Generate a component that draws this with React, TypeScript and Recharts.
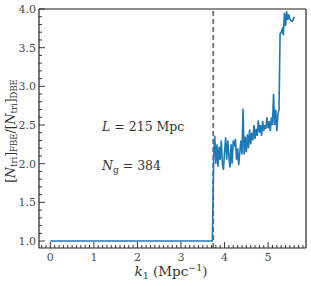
import React from "react";
import {
  LineChart,
  Line,
  XAxis,
  YAxis,
  ReferenceLine,
  Customized,
} from "recharts";

// k1 (Mpc^-1) and ratio [N_tri]_FBE / [N_tri]_DBE
const kValues = [
  0, 0.5, 1, 1.5, 2, 2.5, 3, 3.5, 3.72,
  3.75, 3.775, 3.8, 3.825, 3.85, 3.875, 3.9, 3.925, 3.95, 3.975,
  4.0, 4.025, 4.05, 4.075, 4.1, 4.125, 4.15, 4.175, 4.2, 4.225,
  4.25, 4.275, 4.3, 4.325, 4.35, 4.375, 4.4, 4.425, 4.45, 4.475,
  4.5, 4.525, 4.55, 4.575, 4.6, 4.625, 4.65, 4.675, 4.7, 4.725,
  4.75, 4.775, 4.8, 4.825, 4.85, 4.875, 4.9, 4.925, 4.95, 4.975,
  5.0, 5.025, 5.05, 5.075, 5.1, 5.125, 5.15, 5.175, 5.2, 5.225,
  5.25, 5.275, 5.3, 5.325, 5.35, 5.375, 5.4, 5.425, 5.45, 5.475,
  5.5, 5.525, 5.55, 5.575, 5.6,
];
const ratioValues = [
  1, 1, 1, 1, 1, 1, 1, 1, 1,
  2.08, 2.36, 2.0, 2.25, 1.96, 2.22, 2.05, 2.3, 2.0, 1.92,
  2.15, 2.34, 2.05, 2.3, 2.1, 1.95, 2.25, 2.0, 2.3, 2.22,
  2.32, 2.05, 2.2, 1.98, 2.15, 2.3, 2.12, 2.71, 2.12, 2.35,
  2.15, 2.38, 2.2, 2.44, 2.25, 2.4, 2.3, 2.5, 2.32, 2.45,
  2.36, 2.56, 2.4, 2.5, 2.36, 2.55, 2.42, 2.5, 2.45, 2.6,
  2.46, 2.55, 2.42, 2.6, 2.5, 2.9, 2.5, 2.7, 2.42, 2.64,
  2.7, 3.68, 3.7, 3.74, 3.66, 3.95, 3.78, 3.97, 3.86, 3.93,
  3.87, 3.85, 3.84, 3.86, 3.9,
];

const xMajorTicks = [0, 1, 2, 3, 4, 5];
const yMajorTicks = [1.0, 1.5, 2.0, 2.5, 3.0, 3.5, 4.0];
const kSplit = 3.74;
const boxLength = 215;
const gridCells = 384;

const data = kValues.map((k, i) => ({ k, ratio: ratioValues[i] }));

// minor ticks every 0.1 on both axes
const xTicks: number[] = [];
for (let i = -2; i <= 58; i++) xTicks.push(i / 10);
const yTicks: number[] = [];
for (let i = 10; i <= 40; i++) yTicks.push(i / 10);

const FONT = "'DejaVu Serif', 'Liberation Serif', serif";
const AXIS = "#222";
const TXT = "#4a4a4a";

const isMajor = (v: number, majors: number[]) =>
  majors.some((m) => Math.abs(m - v) < 1e-6);

function XTick(props: any) {
  const { x, y, payload } = props;
  const major = isMajor(payload.value, xMajorTicks);
  return (
    <g>
      <line x1={x} x2={x} y1={y} y2={y - (major ? 6 : 3)} stroke={AXIS} strokeWidth={0.9} />
      {major && (
        <text x={x} y={y + 13} textAnchor="middle" fill={TXT} fontSize={11} fontFamily={FONT}>
          {payload.value}
        </text>
      )}
    </g>
  );
}

function YTick(props: any) {
  const { x, y, payload } = props;
  const major = isMajor(payload.value, yMajorTicks);
  return (
    <g>
      <line x1={x} x2={x + (major ? 6 : 3)} y1={y} y2={y} stroke={AXIS} strokeWidth={0.9} />
      {major && (
        <text x={x - 3} y={y + 4} textAnchor="end" fill={TXT} fontSize={11} fontFamily={FONT}>
          {Number(payload.value).toFixed(1)}
        </text>
      )}
    </g>
  );
}

function Labels() {
  return (
    <g fontFamily={FONT} fill="#333">
      <text x={171} y={276} textAnchor="middle" fontSize={13.5}>
        <tspan fontStyle="italic">k</tspan>
        <tspan fontSize={9.5} dy={3}>1</tspan>
        <tspan dy={-3}> (Mpc</tspan>
        <tspan fontSize={9.5} dy={-5}>−1</tspan>
        <tspan dy={5}>)</tspan>
      </text>
      <text transform="translate(15,131) rotate(-90)" textAnchor="middle" fontSize={12.5}>
        <tspan>[</tspan>
        <tspan fontStyle="italic">N</tspan>
        <tspan fontSize={8.5} dy={2}>tri</tspan>
        <tspan dy={-2}>]</tspan>
        <tspan fontSize={8.5} dy={2}>FBE</tspan>
        <tspan dy={-2}>/[</tspan>
        <tspan fontStyle="italic">N</tspan>
        <tspan fontSize={8.5} dy={2}>tri</tspan>
        <tspan dy={-2}>]</tspan>
        <tspan fontSize={8.5} dy={2}>DBE</tspan>
      </text>
      <text x={102} y={131} fontSize={12.5}>
        <tspan fontStyle="italic">L</tspan>
        <tspan> = {boxLength} Mpc</tspan>
      </text>
      <text x={102} y={170} fontSize={12.5}>
        <tspan fontStyle="italic">N</tspan>
        <tspan fontSize={9} dy={3}>g</tspan>
        <tspan dy={-3}> = {gridCells}</tspan>
      </text>
    </g>
  );
}

export default function App() {
  return (
    <div style={{ position: "fixed", left: 0, top: 0, background: "#fff" }}>
      <LineChart
        width={311}
        height={286}
        data={data}
        margin={{ top: 8, right: 4, bottom: 0, left: 0 }}
      >
        <XAxis
          dataKey="k"
          type="number"
          domain={[-0.26, 5.87]}
          ticks={xTicks}
          interval={0}
          tickSize={0}
          tickMargin={0}
          tickLine={false}
          tick={<XTick />}
          height={38}
          axisLine={{ stroke: AXIS, strokeWidth: 1.2 }}
          allowDataOverflow
        />
        <XAxis
          xAxisId="top"
          orientation="top"
          dataKey="k"
          type="number"
          domain={[-0.26, 5.87]}
          tick={false}
          tickLine={false}
          height={1}
          axisLine={{ stroke: AXIS, strokeWidth: 1.2 }}
        />
        <YAxis
          type="number"
          domain={[0.91, 4.0]}
          ticks={yTicks}
          interval={0}
          tickSize={0}
          tickMargin={0}
          tickLine={false}
          tick={<YTick />}
          width={39}
          axisLine={{ stroke: AXIS, strokeWidth: 1.2 }}
          allowDataOverflow
        />
        <YAxis
          yAxisId="right"
          orientation="right"
          type="number"
          domain={[0.91, 4.0]}
          tick={false}
          tickLine={false}
          width={1}
          axisLine={{ stroke: AXIS, strokeWidth: 1.2 }}
        />
        <ReferenceLine
          x={kSplit}
          stroke="#707070"
          strokeWidth={1.8}
          strokeDasharray="5 3"
        />
        <Line
          type="linear"
          dataKey="ratio"
          stroke="#1f77b4"
          strokeWidth={1.6}
          dot={false}
          isAnimationActive={false}
        />
        <Customized component={<Labels />} />
      </LineChart>
    </div>
  );
}
